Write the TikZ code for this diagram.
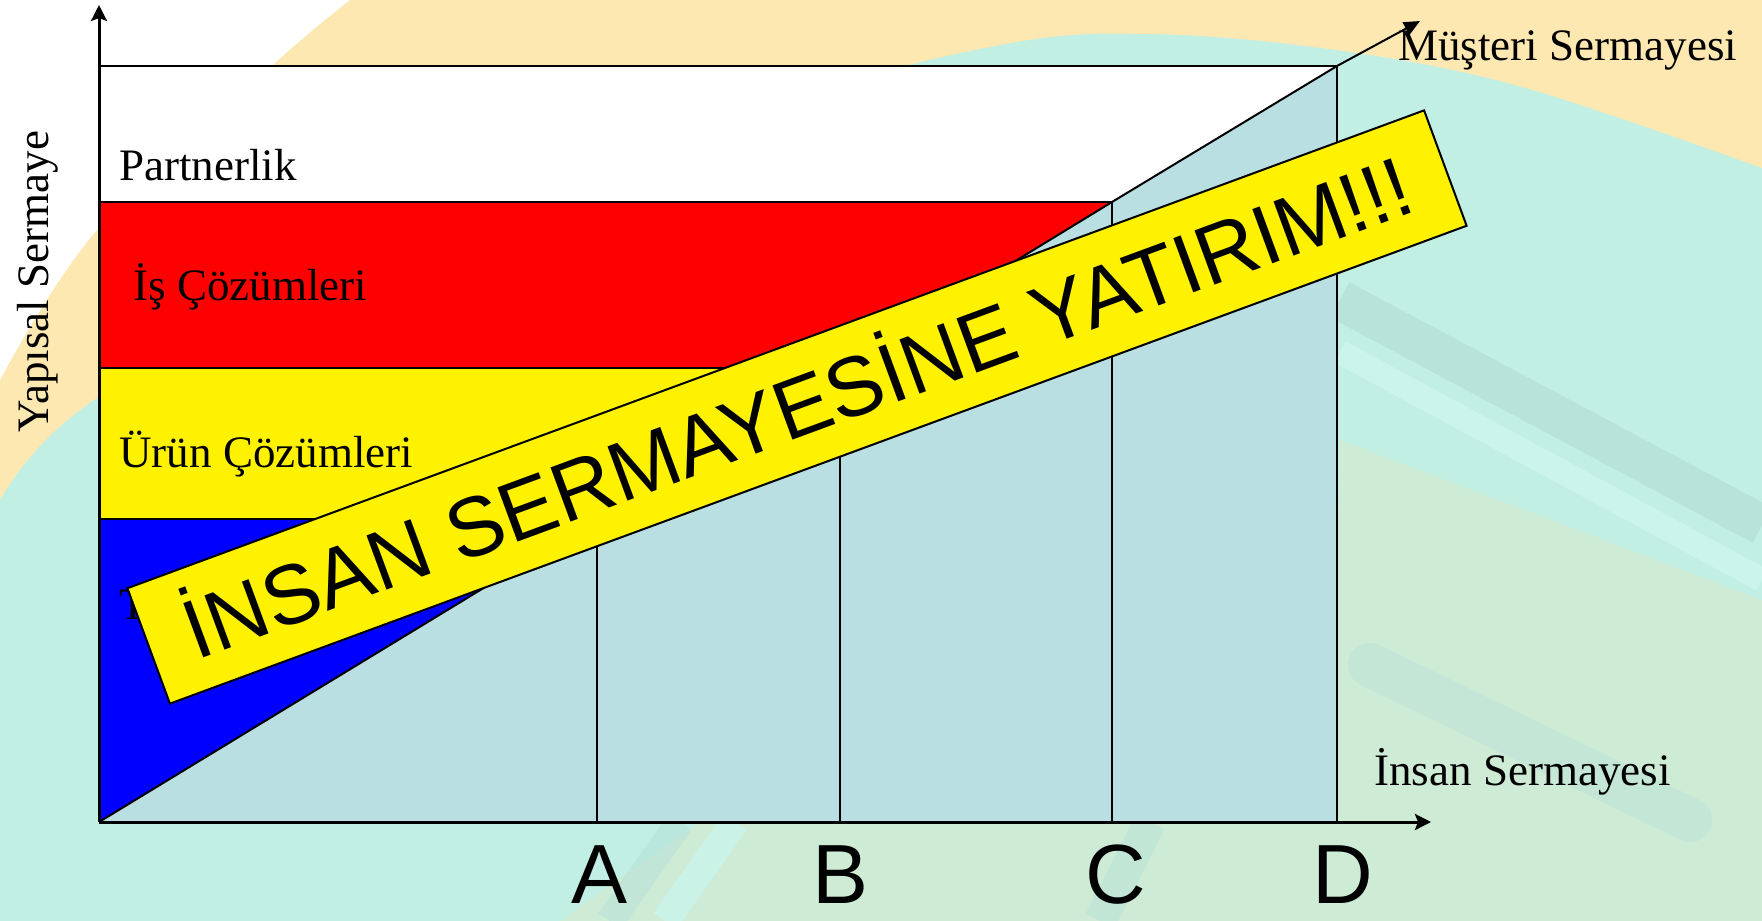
\documentclass[tikz,border=0pt]{standalone}
\usepackage{fontspec}
\setmainfont{Liberation Serif}
\newfontfamily\bannerfont{Liberation Sans}
\usetikzlibrary{arrows.meta}
\definecolor{mint}{RGB}{193,239,228}
\definecolor{mintlight}{RGB}{203,244,234}
\definecolor{peach}{RGB}{253,232,178}
\definecolor{palegreen}{RGB}{206,235,214}
\definecolor{streak}{RGB}{181,224,216}
\definecolor{chartblue}{RGB}{185,223,226}
\begin{document}
\begin{tikzpicture}[x=0.5pt,y=-0.5pt,
  lbl/.style={font=\fontsize{22.5}{27}\selectfont, inner sep=0pt, anchor=base west},
  letter/.style={font=\bannerfont\fontsize{42}{50}\selectfont, inner sep=0pt, anchor=base},
  edgeline/.style={line width=1pt, draw=black},
  vline/.style={line width=0.75pt, draw=black},
  axisline/.style={line width=1.5pt, draw=black, -{Stealth[length=8pt,width=8pt,inset=1.5pt]}},
  bannerbox/.style={draw=black, line width=1pt, fill=yellow, rotate=20.23,
    minimum width=691pt, minimum height=61.5pt, inner sep=0pt,
    text height=30pt, text depth=0pt, font=\bannerfont\fontsize{42}{50}\selectfont}
]
\useasboundingbox (0,0) rectangle (1762,921);
% ---------- background ----------
\fill[mint] (0,0) rectangle (1762,921);
\fill[palegreen] (1762,921) -- (560,921) -- (700,822) -- (1337,560) -- (1340,440) -- (1762,600) -- cycle;
\draw[streak, line width=20pt, opacity=0.75] (1340,300) -- (1762,525);
\draw[mintlight, line width=12pt] (1340,352) -- (1762,580);
\draw[streak, line width=22pt, opacity=0.4, line cap=round] (1370,665) -- (1690,820);
\draw[streak, line width=14pt, opacity=0.5] (610,921) -- (680,822);
\draw[mintlight, line width=14pt, opacity=0.8] (665,921) -- (735,822);
\draw[streak, line width=16pt, opacity=0.45] (1100,921) -- (1150,822);
\fill[peach] (0,0) -- (1762,0) -- plot[smooth, tension=0.6] coordinates
  {(1762,168) (1522,87) (1336,50) (1150,34) (1000,45) (750,110) (400,240) (97,398) (0,500)} -- cycle;
\fill[white] (0,0) -- plot[smooth, tension=0.6] coordinates
  {(350,0) (275,63) (97,230) (0,380)} -- cycle;
% ---------- chart ----------
\coordinate (O) at (99,822);
\coordinate (A) at (597,519);
\coordinate (B) at (840,368);
\coordinate (C) at (1112,202);
\coordinate (D) at (1337,66);
\coordinate (Tip) at (1420,21);
\coordinate (Ytop) at (99,5);
\coordinate (Xend) at (1431,822);
\coordinate (Ab) at (597,822);
\coordinate (Bb) at (840,822);
\coordinate (Cb) at (1112,822);
\coordinate (Db) at (1337,822);
\coordinate (W0) at (99,66);
\coordinate (R0) at (99,202);
\coordinate (Y0) at (99,368);
\coordinate (B0) at (99,519);
\fill[white] (W0) rectangle (1337,202);
\fill[red] (R0) rectangle (1337,368);
\fill[yellow] (Y0) rectangle (1337,519);
\fill[blue] (B0) rectangle (Db);
\fill[chartblue] (O) -- (A) -- (B) -- (C) -- (D) -- (Db) -- cycle;
\draw[edgeline] (W0) -- (D);
\draw[edgeline] (R0) -- (C);
\draw[edgeline] (Y0) -- (B);
\draw[edgeline] (B0) -- (A);
\draw[vline] (A) -- (Ab);
\draw[vline] (B) -- (Bb);
\draw[vline] (C) -- (Cb);
\draw[vline] (D) -- (Db);
\draw[edgeline, -{Triangle[length=8pt,width=7pt]}] (O) -- (A) -- (B) -- (C) -- (D) -- (Tip);
\draw[axisline] (O) -- (Ytop);
\draw[axisline] (O) -- (Xend);
% ---------- labels ----------
\node[lbl] (partner) at (119,180) {Partnerlik};
\node[lbl] (is) at (133,300) {İş Çözümleri};
\node[lbl] (urun) at (119,467) {Ürün Çözümleri};
\node[lbl] (tlab) at (119,619) {T};
\node[lbl] (insan) at (1374,785) {İnsan Sermayesi};
\node[lbl] (musteri) at (1398,60) {Müşteri Sermayesi};
\node[lbl, rotate=90] (yapisal) at (48,433) {Yapısal Sermaye};
% ---------- banner ----------
\node[bannerbox] (banner) at (797,407) {İNSAN SERMAYESİNE YATIRIM!!!};
% ---------- letters ----------
\node[letter] (la) at (600,903) {A};
\node[letter] (lb) at (841,903) {B};
\node[letter] (lc) at (1116,903) {C};
\node[letter] (ld) at (1343,903) {D};
\end{tikzpicture}
\end{document}
